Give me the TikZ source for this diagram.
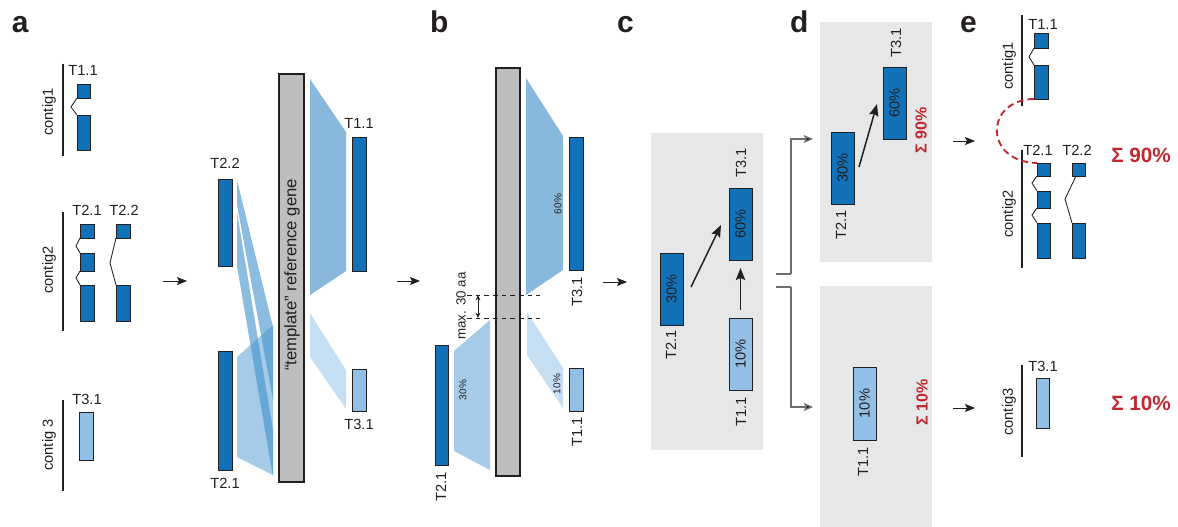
\documentclass[tikz,border=0pt]{standalone}
\usepackage{fontspec}
\setmainfont{Liberation Sans}
\usetikzlibrary{arrows.meta,calc}
\definecolor{dblue}{HTML}{1172BA}
\definecolor{lblue}{HTML}{92BFE5}
\definecolor{mpoly}{HTML}{88B9DD}
\definecolor{lpoly}{HTML}{A5CBE8}
\definecolor{vlpoly}{HTML}{C6DEF2}
\definecolor{stripc}{RGB}{64,145,204}
\definecolor{bargrey}{HTML}{BCBEC0}
\definecolor{panelgrey}{HTML}{E6E7E8}
\definecolor{ink}{HTML}{231F20}
\definecolor{sred}{HTML}{C1272D}
\definecolor{brk}{HTML}{6D6E71}
\newcommand\fsz[1]{\fontsize{#1}{#1}\selectfont}
\begin{document}
\begin{tikzpicture}[x=0.75pt,y=-0.75pt,
 every node/.style={inner sep=0pt, outer sep=0pt, text=ink},
 bw/.style={minimum width=#1*0.75pt},
 bh/.style={minimum height=#1*0.75pt},
 dbox/.style={draw=ink, fill=dblue, line width=0.7pt},
 lbox/.style={draw=ink, fill=lblue, line width=0.7pt},
 barbox/.style={draw=ink, fill=bargrey, line width=0.8pt},
 gpanel/.style={fill=panelgrey},
 lab/.style={font=\fsz{11}},
 pct/.style={font=\fsz{7.5}, rotate=90},
 plab/.style={font=\fsz{22.5}\bfseries, anchor=base west},
 sig/.style={font=\fsz{12}\bfseries, text=sred},
 contig/.style={draw=ink, line width=1.6pt},
 intron/.style={draw=ink, line width=0.65pt},
 arr/.style={draw=ink, line width=0.7pt, -{Stealth[length=7.5pt,width=6pt,inset=1.5pt]}},
 iarr/.style={draw=ink, line width=1.1pt, -{Stealth[length=9pt,width=7pt,inset=1.5pt]}},
 brline/.style={draw=brk, line width=0.9pt},
 brarr/.style={draw=brk, line width=0.9pt, -{Stealth[length=7pt,width=6pt,inset=1.5pt,fill=ink]}},
]
\useasboundingbox (0,0) rectangle (1178,527);

% ---------- panel labels
\node[plab] (pa) at (12,33) {a};
\node[plab] (pb) at (430,33) {b};
\node[plab] (pc) at (617,33) {c};
\node[plab] (pd) at (790,33) {d};
\node[plab] (pe) at (960,33) {e};

% ---------- panel a : contigs
\draw[contig] (63,64) -- (63,156);
\node[lab,rotate=90] (ac1) at (49,112) {contig1};
\node[lab] (la11) at (83,70) {T1.1};
\node[dbox,bw=13,bh=14] (a11t) at (83.5,91) {};
\node[dbox,bw=13,bh=35] (a11b) at (83.5,132.5) {};
\draw[intron] (a11t.south west) -- (71,107) -- (a11b.north west);

\draw[contig] (63,212) -- (63,331);
\node[lab,rotate=90] (ac2) at (49,270) {contig2};
\node[lab] (la21) at (87,210) {T2.1};
\node[lab] (la22) at (124,210) {T2.2};
\node[dbox,bw=14,bh=14] (a21a) at (87,231) {};
\node[dbox,bw=14,bh=18] (a21b) at (87,262) {};
\node[dbox,bw=14,bh=36] (a21c) at (87,303) {};
\draw[intron] (a21a.south west) -- (76,246) -- (a21b.north west);
\draw[intron] (a21b.south west) -- (76,278) -- (a21c.north west);
\node[dbox,bw=14,bh=14] (a22a) at (123,231) {};
\node[dbox,bw=14,bh=36] (a22b) at (123,303) {};
\draw[intron] (a22a.south west) -- (110,263) -- (a22b.north west);

\draw[contig] (63,400) -- (63,491);
\node[lab,rotate=90] (ac3) at (49,445) {contig 3};
\node[lab] (la31) at (87,399) {T3.1};
\node[lbox,bw=14,bh=48] (a31) at (86,436) {};

\coordinate (arA0) at (163,281); \coordinate (arA1) at (187,281);
\draw[arr] (arA0) -- (arA1);

% ---------- panel a : mapping onto template
\fill[lpoly] (237,357) -- (273,325) -- (273,475) -- (237,457) -- cycle;
\fill[stripc, fill opacity=0.6] (237,180) -- (273,327) -- (273,400) -- (237,205) -- cycle;
\fill[stripc, fill opacity=0.6] (237,212) -- (273,430) -- (273,477) -- (237,266) -- cycle;
\fill[mpoly] (310,79) -- (346,132) -- (346,271) -- (310,295) -- cycle;
\fill[vlpoly] (310,313) -- (346,370) -- (346,409) -- (310,357) -- cycle;
\node[barbox,bw=25,bh=408] (ta) at (291.5,278) {};
\node[rotate=90,font=\fsz{12.5}] (tatxt) at (292,275) {“template” reference gene};
\node[dbox,bw=14,bh=134] (t11) at (359,204) {};
\node[lbox,bw=14,bh=42] (t31) at (359,390) {};
\node[dbox,bw=14,bh=87] (t22) at (225,222.5) {};
\node[dbox,bw=14,bh=119] (t21) at (225,410.5) {};
\node[lab] (lt11) at (359,123) {T1.1};
\node[lab] (lt31) at (359,424) {T3.1};
\node[lab] (lt22) at (225,163) {T2.2};
\node[lab] (lt21) at (225,483) {T2.1};

\coordinate (arB0) at (397,281); \coordinate (arB1) at (420,281);
\draw[arr] (arB0) -- (arB1);

% ---------- panel b
\fill[mpoly] (526,78) -- (563,136) -- (563,270) -- (526,295) -- cycle;
\fill[vlpoly] (527,312) -- (563,368) -- (563,408) -- (527,355) -- cycle;
\fill[lpoly] (454,351) -- (490,320) -- (490,470) -- (454,451) -- cycle;
\node[barbox,bw=24,bh=408] (bb) at (508,272) {};
\node[dbox,bw=14,bh=133] (b31) at (576,203.5) {};
\node[lbox,bw=14,bh=43] (b11) at (576,389.5) {};
\node[dbox,bw=13,bh=120] (b21) at (441.5,405) {};
\node[lab,rotate=90] (lb31) at (577,292) {T3.1};
\node[lab,rotate=90] (lb11) at (577,432) {T1.1};
\node[lab,rotate=90] (lb21) at (441,487) {T2.1};
\node[pct] (pb60) at (558,204) {60\%};
\node[pct] (pb10) at (557,384) {10\%};
\node[pct] (pb30) at (463,390) {30\%};
\coordinate (dA0) at (467,295); \coordinate (dA1) at (540,295);
\coordinate (dB0) at (467,318); \coordinate (dB1) at (540,318);
\draw[ink, line width=0.7pt, dash pattern=on 3.5pt off 3pt] (dA0) -- (dA1);
\draw[ink, line width=0.7pt, dash pattern=on 3.5pt off 3pt] (dB0) -- (dB1);
\draw[ink, line width=0.6pt, {Stealth[length=4pt,width=3.5pt]}-{Stealth[length=4pt,width=3.5pt]}] (478,295) -- (478,318);
\node[font=\fsz{10},rotate=90] (maxaa) at (461,306) {max. 30 aa};

\coordinate (arC0) at (603,282); \coordinate (arC1) at (627,282);
\draw[arr] (arC0) -- (arC1);

% ---------- panel c
\node[gpanel,bw=112,bh=317] (cg) at (707,291.5) {};
\node[dbox,bw=23,bh=72] (c21) at (671.5,289) {};
\node[dbox,bw=23,bh=72] (c31) at (740.5,224) {};
\node[lbox,bw=23,bh=72] (c11) at (740.5,354) {};
\node[lab,rotate=90] at (c21) {30\%};
\node[lab,rotate=90] at (c31) {60\%};
\node[lab,rotate=90] at (c11) {10\%};
\node[lab,rotate=90] (lc21) at (671,345) {T2.1};
\node[lab,rotate=90] (lc31) at (741,163) {T3.1};
\node[lab,rotate=90] (lc11) at (741,412) {T1.1};
\draw[iarr] ($(c21.east)+(8,-2)$) -- ($(c31.west)+(-8,1)$);
\draw[iarr] ($(c11.north)+(0,-8)$) -- ($(c31.south)+(0,8)$);

% ---------- brackets c -> d
\node[gpanel,bw=112,bh=240] (dg1) at (876,142) {};
\node[gpanel,bw=112,bh=241] (dg2) at (876,406.5) {};
\coordinate (bu0) at (776,274); \coordinate (bl0) at (776,287);
\draw[brline] (bu0) -- (791,274);
\draw[brarr] (791,274) |- ($(dg1.west)+(-7,-3)$);
\draw[brline] (bl0) -- (791,287);
\draw[brarr] (791,287) |- ($(dg2.west)+(-7,0.5)$);

% ---------- panel d
\node[dbox,bw=23,bh=72] (d21) at (842.5,168) {};
\node[dbox,bw=23,bh=72] (d31) at (894.5,103) {};
\node[lbox,bw=23,bh=73] (d11) at (864.5,403.5) {};
\node[lab,rotate=90] at (d21) {30\%};
\node[lab,rotate=90] at (d31) {60\%};
\node[lab,rotate=90] at (d11) {10\%};
\node[lab,rotate=90] (ld21) at (841,225) {T2.1};
\node[lab,rotate=90] (ld31) at (896,43) {T3.1};
\node[lab,rotate=90] (ld11) at (863,462) {T1.1};
\draw[iarr] ($(d21.east)+(5,-1)$) -- ($(d31.west)+(-6,1)$);
\node[sig,rotate=90] (sd90) at (921,130) {Σ 90\%};
\node[sig,rotate=90] (sd10) at (922,402) {Σ 10\%};

\coordinate (arD0) at (953,141); \coordinate (arD1) at (975,141);
\draw[arr] (arD0) -- (arD1);
\coordinate (arE0) at (953,408); \coordinate (arE1) at (975,408);
\draw[arr] (arE0) -- (arE1);

% ---------- panel e
\draw[contig] (1022,15) -- (1022,106);
\node[lab,rotate=90] (ec1) at (1009,66) {contig1};
\node[lab] (le11) at (1043,24) {T1.1};
\node[dbox,bw=14,bh=15] (e11t) at (1041,40.5) {};
\node[dbox,bw=14,bh=34] (e11b) at (1041,82) {};
\draw[intron] (e11t.south west) -- (1029,57) -- (e11b.north west);

\draw[contig] (1022,150) -- (1022,268);
\node[lab,rotate=90] (ec2) at (1009,214) {contig2};
\node[lab] (le21) at (1038,150) {T2.1};
\node[lab] (le22) at (1077,150) {T2.2};
\node[dbox,bw=13,bh=13] (e21a) at (1043.5,169.5) {};
\node[dbox,bw=13,bh=17] (e21b) at (1043.5,199.5) {};
\node[dbox,bw=13,bh=35] (e21c) at (1043.5,240.5) {};
\draw[intron] (e21a.south west) -- (1032,183) -- (e21b.north west);
\draw[intron] (e21b.south west) -- (1032,215) -- (e21c.north west);
\node[dbox,bw=13,bh=13] (e22a) at (1078.5,169.5) {};
\node[dbox,bw=13,bh=35] (e22b) at (1078.5,240.5) {};
\draw[intron] ($(e22a.south west)+(4,0)$) -- (1065,199) -- (e22b.north west);

\draw[sred, line width=1.4pt, dash pattern=on 5pt off 3pt] (e11b.south west) .. controls (984,100) and (984,162) .. (e21a.north west);
\node[font=\fsz{15.5}\bfseries, text=sred] (se90) at (1141,155) {Σ 90\%};

\draw[contig] (1022,365) -- (1022,457);
\node[lab,rotate=90] (ec3) at (1009,412) {contig3};
\node[lab] (le31) at (1043,366) {T3.1};
\node[lbox,bw=13,bh=50] (e31) at (1042.5,403) {};
\node[font=\fsz{15.5}\bfseries, text=sred] (se10) at (1141,403) {Σ 10\%};
\end{tikzpicture}
\end{document}
